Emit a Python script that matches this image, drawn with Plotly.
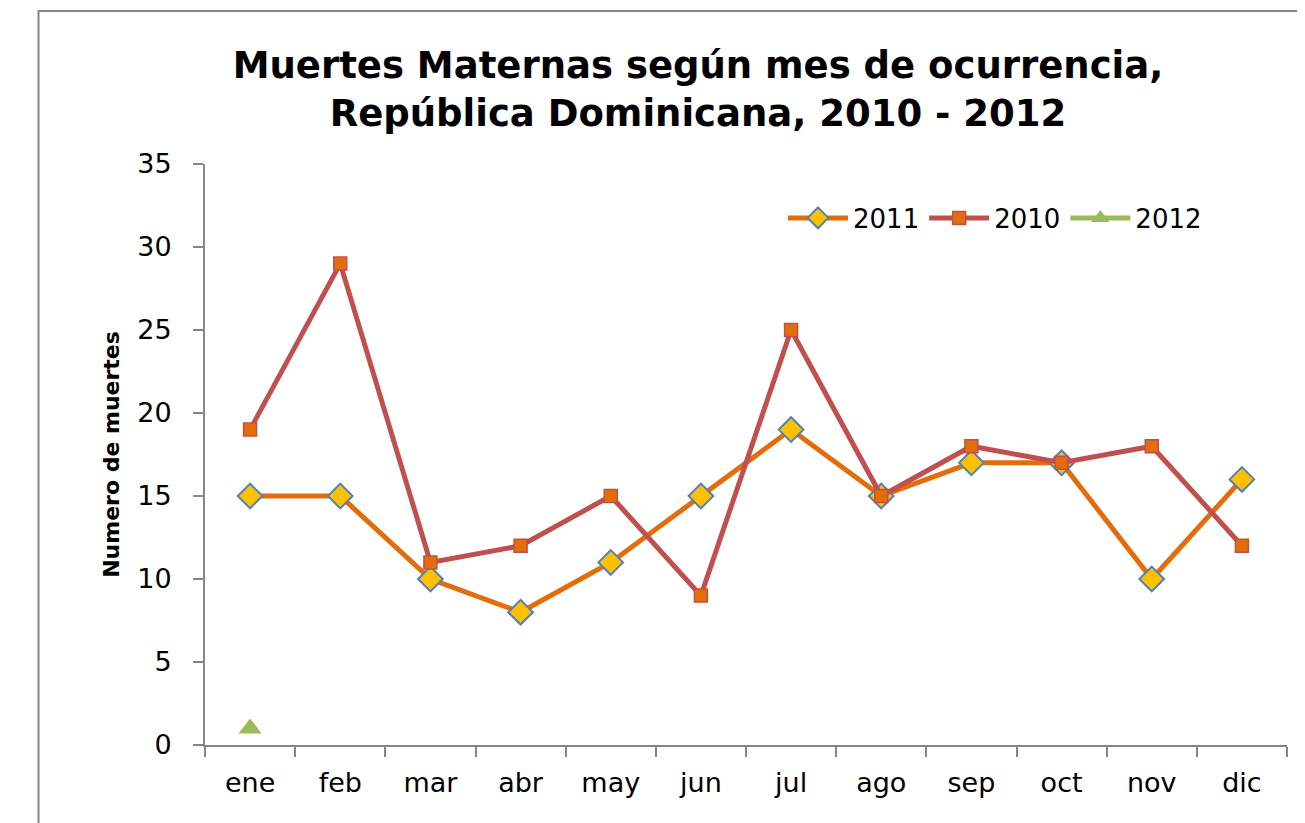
import plotly.graph_objects as go

months = ["ene", "feb", "mar", "abr", "may", "jun", "jul", "ago", "sep", "oct", "nov", "dic"]
y2011 = [15, 15, 10, 8, 11, 15, 19, 15, 17, 17, 10, 16]
y2010 = [19, 29, 11, 12, 15, 9, 25, 15, 18, 17, 18, 12]
y2012 = [1, None, None, None, None, None, None, None, None, None, None, None]

FONT = "DejaVu Sans"
L, R, T, B = 197, 26, 156, 86
W, H = 1305, 823
PW = W - L - R
PH = H - T - B

fig = go.Figure()
fig.add_trace(go.Scatter(
    x=months, y=y2011, name="2011", mode="lines+markers",
    line=dict(color="#E46C0A", width=5),
    marker=dict(symbol="diamond", size=19, color="#FFC000", line=dict(color="#4F81BD", width=2)),
))
fig.add_trace(go.Scatter(
    x=months, y=y2010, name="2010", mode="lines+markers",
    line=dict(color="#C0504D", width=5),
    marker=dict(symbol="square", size=13, color="#E46C0A", line=dict(color="#C0504D", width=1.5)),
))
fig.add_trace(go.Scatter(
    x=months, y=y2012, name="2012", mode="lines+markers",
    line=dict(color="#9BBB59", width=5),
    marker=dict(symbol="triangle-up", size=20, color="#9BBB59"),
))

fig.update_layout(
    width=W, height=H,
    paper_bgcolor="white", plot_bgcolor="white",
    margin=dict(l=L, r=R, t=T, b=B),
    font=dict(family=FONT, color="black"),
    title=dict(
        text="<b>Muertes Maternas según mes de ocurrencia,<br>República Dominicana, 2010 - 2012</b>",
        font=dict(size=37, family=FONT, color="black"),
        x=690 / W, xanchor="center", y=1 - 70 / H, yanchor="middle",
    ),
    showlegend=True,
    legend=dict(
        orientation="h", x=(775 - L) / PW, y=(H - B - 210) / PH, xanchor="left", yanchor="middle",
        font=dict(size=26, family=FONT), bgcolor="rgba(0,0,0,0)",
        itemwidth=60, tracegroupgap=0,
    ),
    xaxis=dict(
        type="category", range=[-0.5, 11.5], showgrid=False,
        showline=True, linecolor="#868686", linewidth=2,
        ticks="outside", tickson="boundaries", ticklen=10, tickcolor="#868686", tickwidth=2,
        tickfont=dict(size=27, family=FONT), zeroline=False, ticklabelstandoff=13,
    ),
    yaxis=dict(
        range=[0, 35], dtick=5, showgrid=False,
        showline=True, linecolor="#868686", linewidth=2,
        ticks="outside", ticklen=10, tickcolor="#868686", tickwidth=2,
        tickfont=dict(size=27, family=FONT), zeroline=False, ticklabelstandoff=16,
        title=dict(text="<b>Numero de muertes</b>", font=dict(size=22, family=FONT), standoff=12),
    ),
    shapes=[dict(
        type="rect", xref="paper", yref="paper",
        x0=(30.5 - L) / PW, x1=1.2, y0=-0.4, y1=(H - B - 3) / PH,
        line=dict(color="#868686", width=2), fillcolor="rgba(0,0,0,0)", layer="below",
    )],
)

fig.write_html("out.html")
